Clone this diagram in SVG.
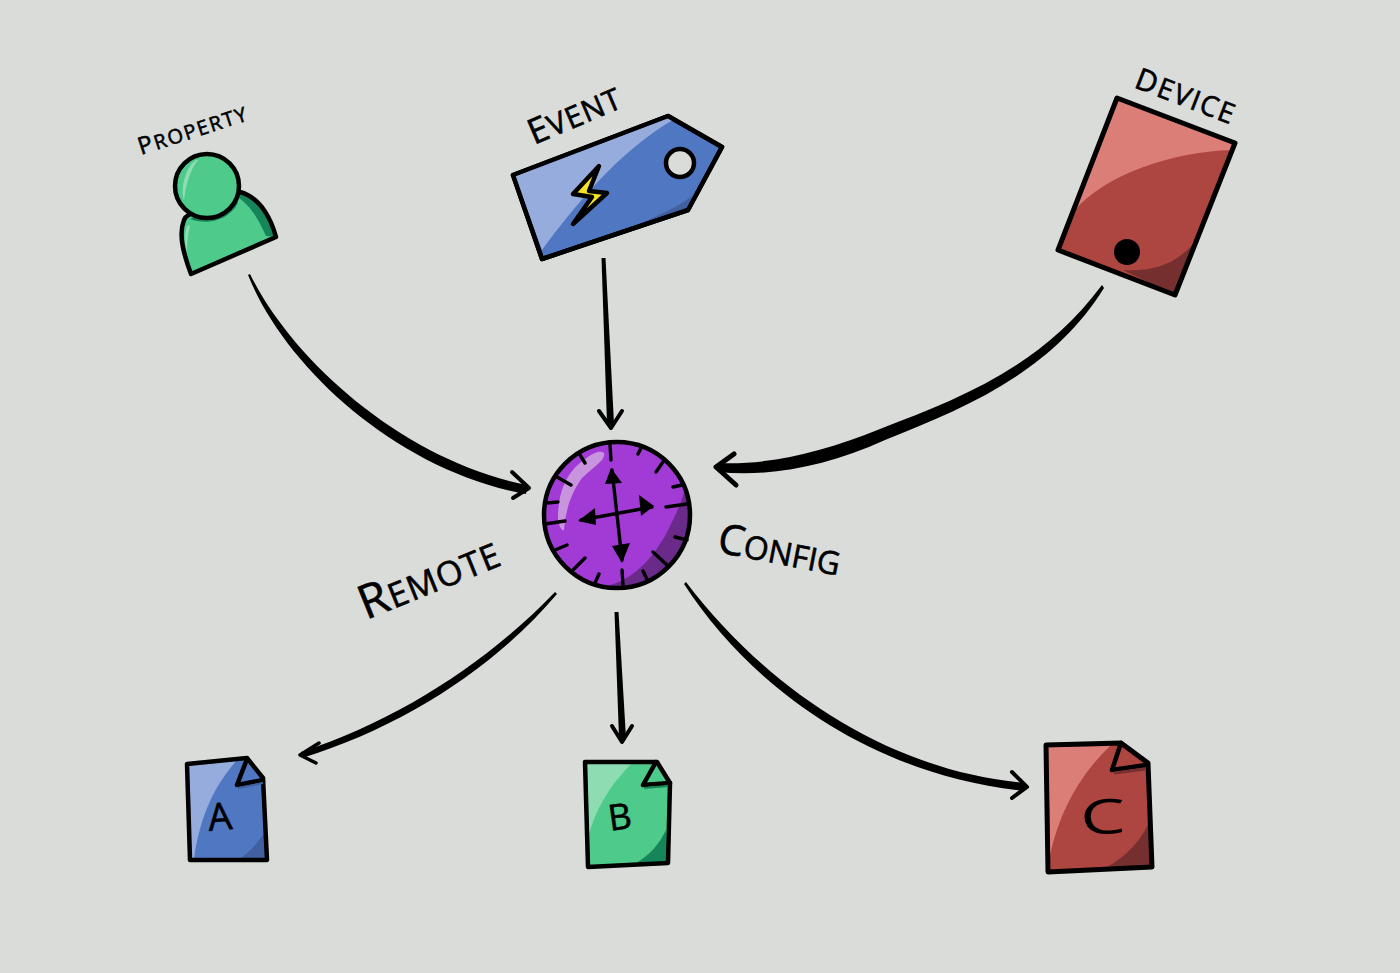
<svg xmlns="http://www.w3.org/2000/svg" width="1400" height="973" viewBox="0 0 1400 973">
<style>
.o{stroke:#000;stroke-width:4.5;stroke-linejoin:round;stroke-linecap:round}
.n{fill:none}
.f{fill:#000;stroke:none}
.h{fill:none;stroke:#000;stroke-width:4;stroke-linecap:round;stroke-linejoin:round}
.t{fill:none;stroke:#000;stroke-width:3.4;stroke-linecap:round}
.l{font-family:"Open Sans","Liberation Sans",sans-serif;fill:#000;stroke:#000;stroke-width:.6}
.gm{fill:#4ecb8a}.gl{fill:#8edcb1}.gd{fill:#17855a}
.bm{fill:#5077c2}.bl{fill:#95acdc}.bd{fill:#41609f}
.rm{fill:#ad4540}.rl{fill:#dc7e78}.rd{fill:#752f2f}
</style>
<rect width="1400" height="973" fill="#d9dcd9"/>
<g id="connectors">
<path class="f" d="M250,274C293,362 405,461 527,485L526,494C395,470 284,365 248,275Z"/>
<path class="h" d="M512,472L529,488L513,498"/>
<path class="f" d="M601.500,258L605.500,258L614,424L607,424Z"/>
<path class="h" d="M599,411L611,428L622,411"/>
<path class="f" d="M1102,285C1040,368 960,398 880,429C820,453 770,465 718,463L718,472C770,477 825,467 885,440C965,408 1052,372 1104,288Z"/>
<path class="h" d="M734,454L716,467L736,485" style="stroke-width:5"/>
<path class="f" d="M555,592C490,660 400,720 301,752L302,758C405,726 496,666 557,594Z"/>
<path class="h" d="M319,743L300,755L316,763" style="stroke-width:3.5"/>
<path class="f" d="M614.500,612L618.500,612L626,738L619,738Z"/>
<path class="h" d="M612,726L622,742L632,726"/>
<path class="f" d="M686,582C760,680 880,770 1025,783L1025,791C870,775 750,686 684,584Z"/>
<path class="h" d="M1012,772L1027,787L1012,798"/>
</g>
<g id="property">
<path class="gm" d="M191,274C184,255 178,235 184,220C190,205 215,190 240,192C262,200 272,222 276,237Z"/>
<path class="gd" d="M240,192C258,197 272,222 276,237L266,236C258,218 250,205 236,196Z"/>
<path class="gd" d="M190,219C205,225 228,222 238,203L236,195Z"/>
<path class="gl" d="M187,226C184,235 185,245 187,252C187,242 188,234 190,225Z"/>
<path class="o n" d="M191,274C184,255 178,235 184,220C187,213 193,214 200,212M240,192C262,198 272,222 276,237L191,274"/>
<circle class="gm o" cx="207" cy="186" r="32"/>
<path class="gl" d="M196,160C185,168 180,190 184,200C186,185 190,170 198,160Z"/>
<text class="l" transform="translate(141,155) rotate(-18)" font-size="24" letter-spacing="1.8">P<tspan font-size="20">ROPERTY</tspan></text>
</g>
<g id="event">
<path class="bm o" d="M513,175L668,116L722,147L688,210L542,259Z"/>
<path class="bl" d="M515,176L668,118L673,120C630,145 590,185 542,250Z"/>
<path class="bd" d="M643,222C665,213 685,203 697,192L687,208Z"/>
<path class="o n" d="M513,175L668,116L722,147L688,210L542,259Z"/>
<circle class="o" cx="680" cy="163" r="14" fill="#d9dcd9"/>
<path d="M599,166L573,194L592,197L573,224L607,193L589,191Z" fill="#f7e223" stroke="#000" stroke-width="4.5" stroke-linejoin="round"/>
<text class="l" transform="translate(534,145) rotate(-23)" font-size="35" letter-spacing="1">E<tspan font-size="30">VENT</tspan></text>
</g>
<g id="device">
<path class="rm" d="M1117,98L1235,143L1175,295L1058,250Z"/>
<path class="rl" d="M1117,98L1235,143L1232,150C1170,152 1105,175 1075,210Z"/>
<path class="rd" d="M1193,244C1175,265 1150,272 1123,270L1175,295Z"/>
<path class="o n" d="M1117,98L1235,143L1175,295L1058,250Z" style="stroke-width:5"/>
<circle cx="1127" cy="252" r="13" fill="#000"/>
<text class="l" transform="translate(1133,87) rotate(21)" font-size="30" letter-spacing="1.8">D<tspan font-size="28">EVICE</tspan></text>
</g>
<g id="compass">
<circle cx="617" cy="515" r="73" fill="#a23bd6"/>
<path fill="#6a2a8a" d="M685,489A73,73 0 0 1 607,586C640,577 655,552 665,536C673,520 681,505 685,489Z"/>
<path fill="#c794dd" d="M604,453C598,449 590,455 580,463C565,475 558,495 558,517C558,525 562,532 564,530C566,510 570,495 582,478C592,468 606,460 604,453Z"/>
<circle class="o n" cx="617" cy="515" r="73"/>
<g class="t">
<path d="M610,445L611,460M580,455L585,463M557,477L571,485M547,503L558,502M545,524L565,521M555,550L567,545M573,570L585,558M595,583L599,574M623,585L622,570M647,579L643,571M667,565L653,552M687,540L675,537M687,504L666,507M682,485L673,487M656,472L663,462M638,454L641,448"/>
<path d="M612,470L622,560M581,520L652,507"/>
</g>
<path class="f" d="M611,468L622,483L605,484ZM622,563L612,546L630,543ZM578,521L595,508L596,525ZM654,506L639,495L641,516Z" stroke="#000"/>
</g>
<g id="remote-label"><text class="l" transform="translate(366,620) rotate(-22)" font-size="47" letter-spacing="1">R<tspan font-size="34">EMOTE</tspan></text></g>
<g id="config-label"><text class="l" transform="translate(716,552) rotate(11)" font-size="42">C<tspan font-size="32">ONFIG</tspan></text></g>
<g id="doc-a">
<path class="bm" d="M187,764L247,758L263,778L267,860L190,860Z"/>
<path class="bl" d="M187,764L237,760C215,785 200,815 194,859L190,859Z"/>
<path class="bd" d="M266,830L267,859L241,858C252,850 260,840 266,830Z"/>
<path class="o n" d="M187,764L247,758L263,778L267,860L190,860Z"/>
<path class="o n" d="M247,759L237,785L263,780"/>
<path d="M238,788L263,783" stroke="#41609f" stroke-width="2"/>
<text class="l" transform="translate(209,831) rotate(-5)" font-size="38">A</text>
</g>
<g id="doc-b">
<path class="gm" d="M585,762L657,762L670,783L668,863L588,867Z"/>
<path class="gl" d="M587,763L632,763C610,785 595,810 589,835Z"/>
<path class="gd" d="M666,830L667,862L636,863C650,855 660,843 666,830Z"/>
<path class="o n" d="M585,762L657,762L670,783L668,863L588,867Z"/>
<path class="o n" d="M656,762L643,785L670,783"/>
<path d="M644,788L668,786" stroke="#17855a" stroke-width="2"/>
<text class="l" transform="translate(610,831) rotate(-8)" font-size="36">B</text>
</g>
<g id="doc-c">
<path class="rm" d="M1046,745L1121,743L1148,763L1152,867L1048,872Z"/>
<path class="rl" d="M1048,747L1110,746C1080,775 1060,810 1050,855Z"/>
<path class="rd" d="M1150,820L1151,866L1105,868C1125,858 1142,840 1150,820Z"/>
<path class="o n" d="M1046,745L1121,743L1148,763L1152,867L1048,872Z" style="stroke-width:5"/>
<path class="o n" d="M1121,743L1112,770L1146,765"/>
<path d="M1114,773L1145,769" stroke="#752f2f" stroke-width="3"/>
<text class="l" transform="translate(1081,835) rotate(-3) scale(1.5,1)" font-size="48" style="stroke:none">C</text>
</g>
</svg>
